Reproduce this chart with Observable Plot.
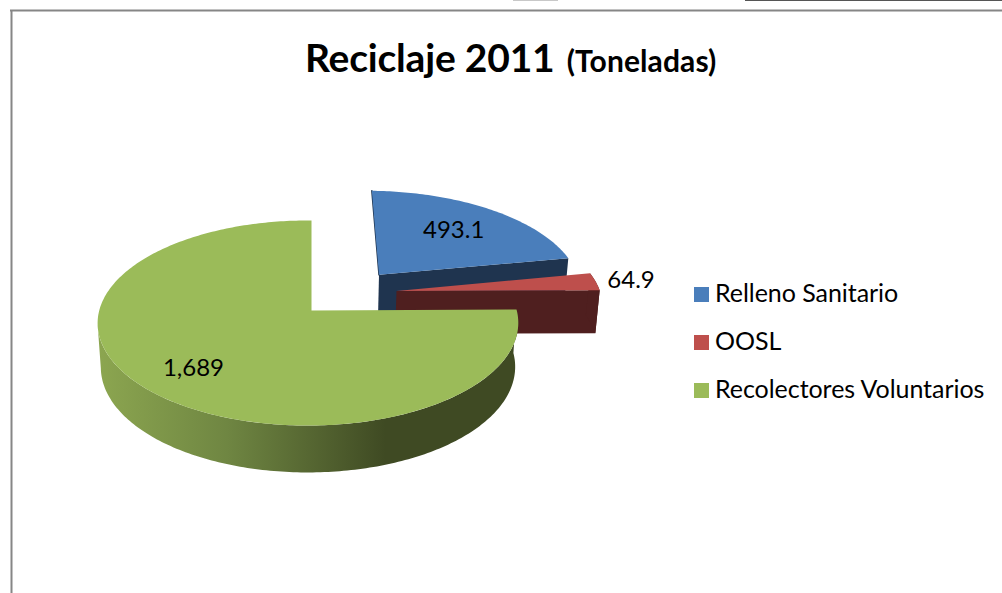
<!DOCTYPE html>
<html>
<head>
<meta charset="utf-8">
<script src="https://cdn.jsdelivr.net/npm/d3@7"></script>
<script src="https://cdn.jsdelivr.net/npm/@observablehq/plot@0.6"></script>
<style>
html,body{margin:0;padding:0;background:#fff;overflow:hidden}
#wrap{position:relative;width:1002px;height:593px;font-family:Lato,"Open Sans",sans-serif;color:#000}
#title{position:absolute;left:305px;top:34px;font-weight:700;font-size:39px;line-height:46px;white-space:nowrap;letter-spacing:-.2px}
#title span{font-size:30px;margin-left:3px;letter-spacing:.1px}
.lg{position:absolute;left:694px;display:flex;align-items:center;height:16px;font-size:25px;white-space:nowrap}
.lg i{display:block;width:15px;height:15px;margin-right:6px}
.lg b{font-weight:400;position:relative;top:-2px;letter-spacing:-.05px}
.edge{position:absolute;top:0;height:1px}
svg{display:block}
</style>
</head>
<body>
<div id="wrap"></div>
<script>
const categories = ["Relleno Sanitario", "OOSL", "Recolectores Voluntarios"];
const values = [493.1, 64.9, 1689];
const labels = ["493.1", "64.9", "1,689"];
const topColors = ["#4A7EBB", "#BE4F4C", "#9BBB59"];
const sideColors = ["#1F344F", "#4F1F1F", "url(#greenSide)"];
const explodeU = [0.34, 0.42, 0];
const explodeV = [0.371, 0.2, 0];
const sliceRadius = [1.022, 1.03, 1];
const labelRadius = [0.666, 1.22, 0.745];

// Perspective view of the pie disc
const cx = 311, cy = 310, a = 208.7, b = 101, k = 0.122, j = 0.0168, shrink = 0.985;
function project(u, v, low) {
  const d = 1 + k * v + j * u;
  const X = a * u / d, Y = -b * v / d;
  const depth = 43.6 - 3.3 * v;
  return low ? {x: cx + X * shrink, y: cy + Y + depth} : {x: cx + X, y: cy + Y};
}
const arcs = d3.pie().sort(null)(values);
const rimPoint = (i, th, low) => project(
  explodeU[i] + sliceRadius[i] * Math.sin(th),
  explodeV[i] + sliceRadius[i] * Math.cos(th), low);
function rim(i, low, a0 = arcs[i].startAngle, a1 = arcs[i].endAngle) {
  const n = Math.ceil((a1 - a0) * 60);
  return d3.range(n + 1).map(t => rimPoint(i, a0 + (a1 - a0) * t / n, low));
}
const apex = (i, low) => project(explodeU[i], explodeV[i], low);
const topFace = i => [apex(i, false), ...rim(i, false), apex(i, false)];
// Flat cut face, from the centre out to one end of the rim
const cutFace = (i, th) => [apex(i, false), rimPoint(i, th, false), rimPoint(i, th, true), apex(i, true)];
const wall = (i, a0, a1) => [...rim(i, false, a0, a1), ...rim(i, true, a0, a1).reverse()];
const poly = (pts, fill) => Plot.line(pts, {x: "x", y: "y", fill, stroke: "none", curve: "linear"});

const labelData = arcs.map((s, i) => {
  const th = (s.startAngle + s.endAngle) / 2;
  return {...project(explodeU[i] + labelRadius[i] * Math.sin(th), explodeV[i] + labelRadius[i] * Math.cos(th), false), text: labels[i]};
});

const defs = () => {
  const svg = d3.create("svg:defs");
  const g = svg.append("linearGradient").attr("id", "greenSide").attr("gradientUnits", "userSpaceOnUse")
    .attr("x1", 97).attr("x2", 385).attr("y1", 0).attr("y2", 0);
  g.append("stop").attr("offset", 0).attr("stop-color", "#8CA650");
  g.append("stop").attr("offset", 0.45).attr("stop-color", "#6F8642");
  g.append("stop").attr("offset", 1).attr("stop-color", "#3F4A23");
  return svg.node();
};

const chart = Plot.plot({
  width: 1002, height: 593,
  margin: 0,
  x: {domain: [0, 1002], range: [0, 1002], axis: null},
  y: {domain: [0, 593], range: [0, 593], axis: null},
  style: {background: "white", fontFamily: "Lato, 'Open Sans', sans-serif"},
  marks: [
    defs,
    Plot.ruleY([10], {x1: 10, x2: 1002, stroke: "#868686", strokeWidth: 2}),
    Plot.ruleX([11], {y1: 10, y2: 593, stroke: "#868686", strokeWidth: 2}),
    // Blue
    poly(cutFace(0, arcs[0].endAngle), sideColors[0]),
    Plot.line([apex(0, false), rimPoint(0, arcs[0].startAngle, false)], {x: "x", y: "y", stroke: sideColors[0], strokeWidth: 1.5}),
    poly(topFace(0), topColors[0]),
    // Red
    poly(cutFace(1, arcs[1].endAngle), sideColors[1]),
    poly(wall(1, arcs[1].startAngle, arcs[1].endAngle), sideColors[1]),
    poly(topFace(1), topColors[1]),
    // Green
    poly(wall(2, arcs[2].startAngle, arcs[2].startAngle + 3.02), sideColors[2]),
    poly(topFace(2), topColors[2]),
    Plot.text(labelData, {x: "x", y: "y", text: "text", fontSize: 24, fill: "#000", textAnchor: "middle"})
  ]
});
const wrap = document.getElementById("wrap");
wrap.appendChild(chart);

const t = document.createElement("div");
t.id = "title";
t.innerHTML = "Reciclaje 2011 <span>(Toneladas)</span>";
wrap.appendChild(t);

const legendTop = [286, 334, 382];
categories.forEach((c, i) => {
  const d = document.createElement("div");
  d.className = "lg";
  d.style.top = legendTop[i] + "px";
  d.innerHTML = `<i style="background:${topColors[i]}"></i><b>${c}</b>`;
  wrap.appendChild(d);
});
[[513, 45, "#c8c8c8"], [745, 257, "#555"]].forEach(([l, w, c]) => {
  const e = document.createElement("div");
  e.className = "edge";
  e.style.cssText = `left:${l}px;width:${w}px;background:${c}`;
  wrap.appendChild(e);
});
</script>
</body>
</html>
